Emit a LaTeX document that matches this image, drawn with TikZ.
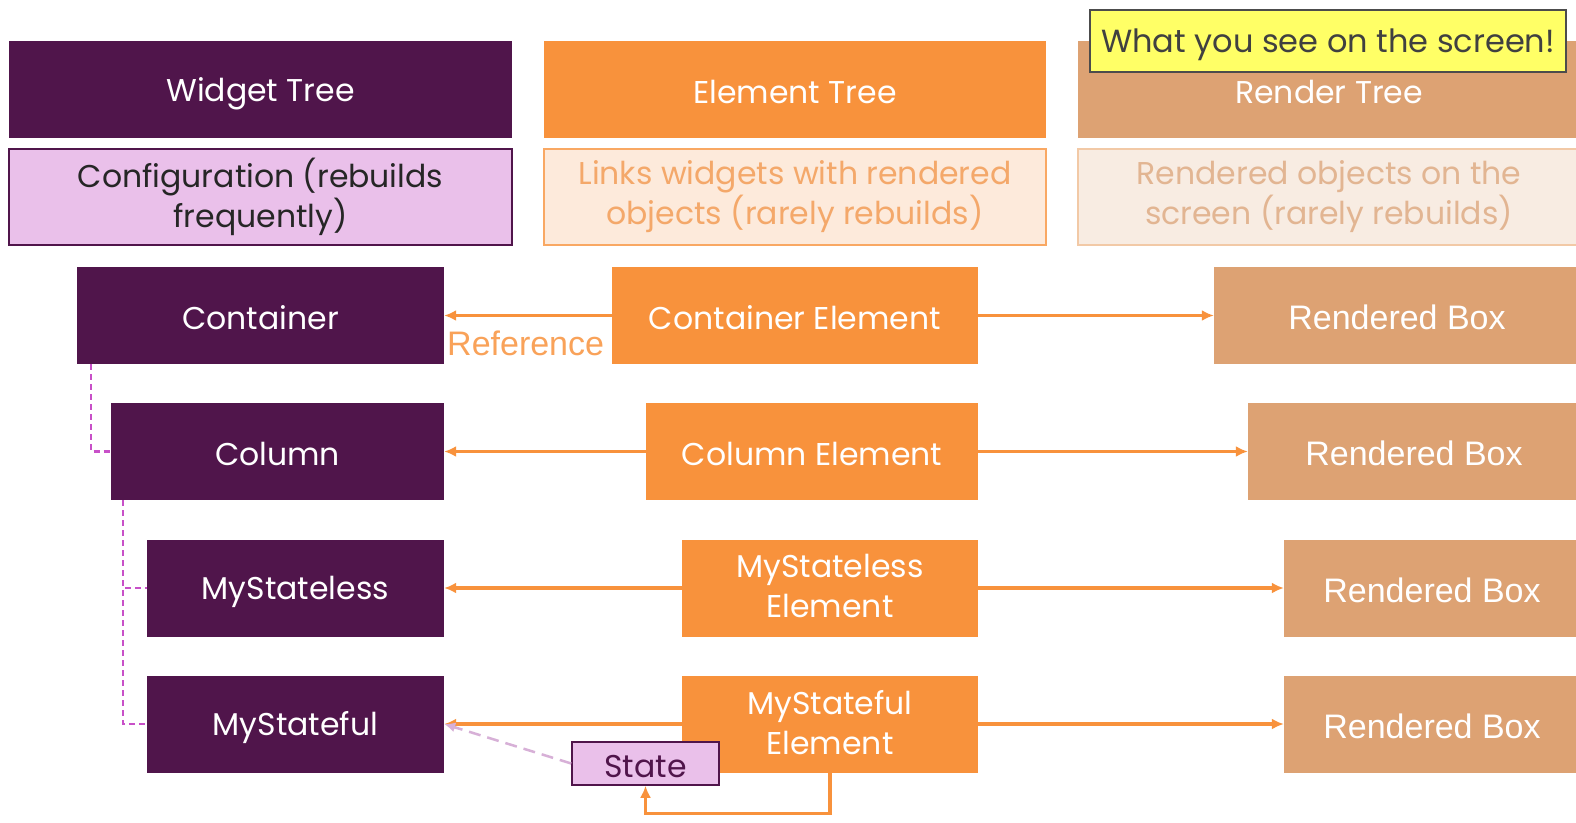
\documentclass[tikz,border=0pt]{standalone}
\usepackage{fontspec}
\setmainfont{Poppins}
\newfontfamily\narrowfont{Liberation Sans}
\usetikzlibrary{arrows.meta}

\definecolor{widgetpurple}{RGB}{80,21,75}
\definecolor{elemorange}{RGB}{248,146,60}
\definecolor{rendertan}{RGB}{221,162,115}
\definecolor{configfill}{RGB}{234,192,234}
\definecolor{linkfill}{RGB}{253,234,219}
\definecolor{linktext}{RGB}{244,168,106}
\definecolor{objfill}{RGB}{248,236,226}
\definecolor{objborder}{RGB}{242,201,166}
\definecolor{objtext}{RGB}{226,181,146}
\definecolor{notefill}{RGB}{255,255,102}
\definecolor{treedash}{RGB}{200,80,200}
\definecolor{statedash}{RGB}{215,176,215}

% keeps the text a bit low in its box
\newcommand{\toprule}{\rule{0pt}{32pt}}
\newcommand{\botrule}{\rule[-4pt]{0pt}{4pt}}

\tikzset{
    box/.style={rectangle, inner sep=0pt, minimum height=97pt, align=center,
        font=\fontsize{31.5}{40}\selectfont,
        execute at begin node=\toprule, execute at end node=\botrule},
    widget/.style={box, fill=widgetpurple, text=white},
    element/.style={box, fill=elemorange, text=white},
    render/.style={box, fill=rendertan, text=white},
    rendbox/.style={render, font=\narrowfont\fontsize{34}{40}\selectfont},
    refarrow/.style={draw=elemorange, line width=3.5pt, -{Latex[length=12pt,width=11pt]}},
    treeline/.style={draw=treedash, line width=2.5pt, dash pattern=on 6pt off 4pt},
}

\begin{document}
\begin{tikzpicture}[x=1pt, y=-1pt]
    \useasboundingbox[fill=white] (0,0) rectangle (1576,822);

    % the three trees
    \node[widget, minimum width=503pt] (wtree) at (260.5,89.5) {Widget Tree};
    \node[element, minimum width=502pt] (etree) at (795,89.5) {Element Tree};
    \node[render, minimum width=502pt] (rtree) at (1329,89.5) {Render Tree};

    \node[box, minimum width=503pt, minimum height=96pt, fill=configfill,
        draw=widgetpurple, line width=1.5pt, text=black!85] (config) at (260.5,197)
        {Configuration (rebuilds\\frequently)};
    \node[box, minimum width=502pt, minimum height=96pt, fill=linkfill,
        draw=elemorange!80, line width=1.5pt, text=linktext] (links) at (795,197)
        {Links widgets with rendered\\objects (rarely rebuilds)};
    \node[box, minimum width=502pt, minimum height=96pt, fill=objfill,
        draw=objborder, line width=1.5pt, text=objtext] (objects) at (1329,197)
        {Rendered objects on the\\screen (rarely rebuilds)};

    \node[box, minimum width=476pt, minimum height=62pt, fill=notefill,
        draw=black!70, line width=1.5pt, text=black!75,
        font=\fontsize{32}{40}\selectfont] (note) at (1328,41)
        {What you see on the screen!};

    % widgets
    \node[widget, minimum width=367pt] (container) at (260.5,315.5) {Container};
    \node[widget, minimum width=333pt] (column) at (277.5,451.5) {Column};
    \node[widget, minimum width=297pt] (stateless) at (295.5,588) {MyStateless};
    \node[widget, minimum width=297pt] (stateful) at (295.5,724) {MyStateful};

    % elements
    \node[element, minimum width=366pt] (containerEl) at (795,315.5) {Container Element};
    \node[element, minimum width=332pt] (columnEl) at (812,451.5) {Column Element};
    \node[element, minimum width=296pt] (statelessEl) at (830,588) {MyStateless\\Element};
    \node[element, minimum width=296pt] (statefulEl) at (830,724) {MyStateful\\Element};

    % render objects
    \node[rendbox, minimum width=366pt] (box1) at (1397,315.5) {Rendered Box};
    \node[rendbox, minimum width=332pt] (box2) at (1414,451.5) {Rendered Box};
    \node[rendbox, minimum width=296pt] (box3) at (1432,588) {Rendered Box};
    \node[rendbox, minimum width=296pt] (box4) at (1432,724) {Rendered Box};

    % element -> widget and element -> render object
    \draw[refarrow] (containerEl) -- (container);
    \draw[refarrow] (columnEl) -- (column);
    \draw[refarrow] (statelessEl) -- (stateless);
    \draw[refarrow] (statefulEl) -- (stateful);
    \draw[refarrow] (containerEl) -- (box1);
    \draw[refarrow] (columnEl) -- (box2);
    \draw[refarrow] (statelessEl) -- (box3);
    \draw[refarrow] (statefulEl) -- (box4);
    \node[text=elemorange!85, font=\narrowfont\fontsize{34}{36}\selectfont,
        anchor=west, inner sep=0pt] (reflabel) at (447,343) {Reference};

    % widget tree
    \draw[treeline] ([xshift=14pt]container.south west) |- (column.west);
    \draw[treeline] ([xshift=12pt]column.south west) |- (stateless.west);
    \draw[treeline] ([xshift=12pt]column.south west) |- (stateful.west);

    % state object
    \node[box, minimum width=147pt, minimum height=43pt, fill=configfill,
        draw=widgetpurple, line width=1.5pt, text=widgetpurple] (state) at (645.5,763.5) {State};
    \draw[statedash, line width=2.5pt, dash pattern=on 12pt off 7pt,
        -{Latex[length=11pt,width=10pt]}] (state.west) -- (stateful.east);
    \draw[refarrow] (statefulEl.south) -- ++(0,41) -| (state.south);
\end{tikzpicture}
\end{document}
